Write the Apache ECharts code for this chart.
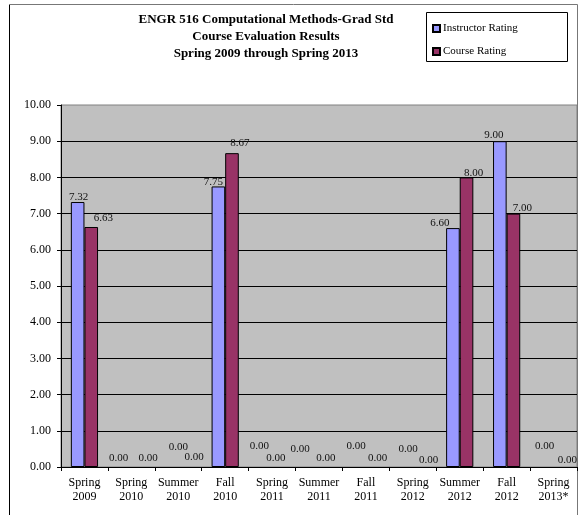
<!DOCTYPE html>
<html>
<head>
<meta charset="utf-8">
<script src="https://cdn.jsdelivr.net/npm/echarts@6/dist/echarts.min.js"></script>
<style>
  html, body { margin: 0; padding: 0; background: #fff; }
  #chart { width: 581px; height: 515px; }
</style>
</head>
<body>
<div id="chart"></div>
<script>
  // 学期
  const terms = ['Spring\n2009', 'Spring\n2010', 'Summer\n2010', 'Fall\n2010', 'Spring\n2011', 'Summer\n2011',
    'Fall\n2011', 'Spring\n2012', 'Summer\n2012', 'Fall\n2012', 'Spring\n2013*']
  const instructorRating = [7.32, 0, 0, 7.75, 0, 0, 0, 0, 6.60, 9.00, 0]
  const courseRating = [6.63, 0, 0, 8.67, 0, 0, 0, 0, 8.00, 7.00, 0]
  const yTicks = [0, 1, 2, 3, 4, 5, 6, 7, 8, 9, 10]

  // label nudges (Excel style staggering), [dx, dy]
  const nudgeInstructor = [[1, 2], [-6, -2], [7, -13], [-5, 2], [-6, -14], [-12, -11], [-3, -14], [2, -11], [-13, 2], [-6, 0], [-2, -14]]
  const nudgeCourse = [[12, -2], [10, -2], [9, -3], [8, -4], [-3, -2], [0, -2], [5, -2], [9, 0], [7, 2], [9, 1], [7, 0]]

  const serif = 'Liberation Serif, Times New Roman, serif'

  function buildData (values, nudges) {
    return values.map((v, i) => ({
      value: v,
      label: { offset: nudges[i] },
      // 0 值的柱子不画
      itemStyle: v === 0 ? { borderWidth: 0, color: 'transparent', borderColor: 'transparent' } : {}
    }))
  }

  const labelStyle = {
    show: true,
    position: 'top',
    distance: 1,
    fontFamily: serif,
    fontSize: 11,
    color: '#111',
    formatter: p => p.value.toFixed(2)
  }

  const chart = echarts.init(document.getElementById('chart'))
  chart.setOption({
    animation: false,
    title: {
      text: 'ENGR 516 Computational Methods-Grad Std\nCourse Evaluation Results\nSpring 2009 through Spring 2013',
      left: 261,
      top: 6,
      textAlign: 'center',
      textStyle: { fontFamily: serif, fontSize: 13, fontWeight: 'bold', lineHeight: 17, color: '#000' }
    },
    legend: {
      orient: 'vertical',
      left: 432,
      top: 22,
      itemGap: 10,
      itemWidth: 7,
      itemHeight: 7,
      icon: 'rect',
      padding: 0,
      textStyle: { fontFamily: serif, fontSize: 11, color: '#000', padding: [0, 0, 0, -2], lineHeight: 13 },
      data: ['Instructor Rating', 'Course Rating']
    },
    graphic: [
      // outer frame
      { type: 'line', shape: { x1: 9.5, y1: 4.5, x2: 9.5, y2: 515 }, style: { stroke: '#000', lineWidth: 1 } },
      { type: 'line', shape: { x1: 9.5, y1: 4.5, x2: 577.5, y2: 4.5 }, style: { stroke: '#777', lineWidth: 1 } },
      { type: 'line', shape: { x1: 577.5, y1: 4.5, x2: 577.5, y2: 515 }, style: { stroke: '#777', lineWidth: 1 } },
      // legend box
      { type: 'rect', shape: { x: 426.5, y: 12.5, width: 141, height: 49 }, style: { fill: 'none', stroke: '#000', lineWidth: 1 } }
    ],
    grid: {
      left: 61,
      top: 105,
      right: 4,
      bottom: 48,
      show: true,
      backgroundColor: '#c0c0c0',
      borderColor: '#808080',
      borderWidth: 1
    },
    xAxis: {
      type: 'category',
      data: terms,
      axisLine: { show: true, lineStyle: { color: '#000', width: 1 } },
      axisTick: { show: true, length: 4, lineStyle: { color: '#000' } },
      axisLabel: { fontFamily: serif, fontSize: 12, lineHeight: 14, color: '#000', margin: 9, interval: 0 },
      splitLine: { show: false }
    },
    yAxis: {
      type: 'value',
      min: yTicks[0],
      max: yTicks[yTicks.length - 1],
      interval: 1,
      axisLine: { show: true, lineStyle: { color: '#000', width: 1 } },
      axisTick: { show: true, length: 4, lineStyle: { color: '#000' } },
      axisLabel: { fontFamily: serif, fontSize: 12, color: '#000', margin: 10, formatter: v => v.toFixed(2) },
      splitLine: { show: true, showMaxLine: false, lineStyle: { color: '#000', width: 1 } }
    },
    series: [
      {
        name: 'Instructor Rating',
        type: 'bar',
        barGap: '0%',
        barCategoryGap: '42%',
        itemStyle: { color: '#9999ff', borderColor: '#000', borderWidth: 1 },
        label: labelStyle,
        data: buildData(instructorRating, nudgeInstructor)
      },
      {
        name: 'Course Rating',
        type: 'bar',
        barGap: '0%',
        barCategoryGap: '42%',
        itemStyle: { color: '#993366', borderColor: '#000', borderWidth: 1 },
        label: labelStyle,
        data: buildData(courseRating, nudgeCourse)
      }
    ]
  })
</script>
</body>
</html>
